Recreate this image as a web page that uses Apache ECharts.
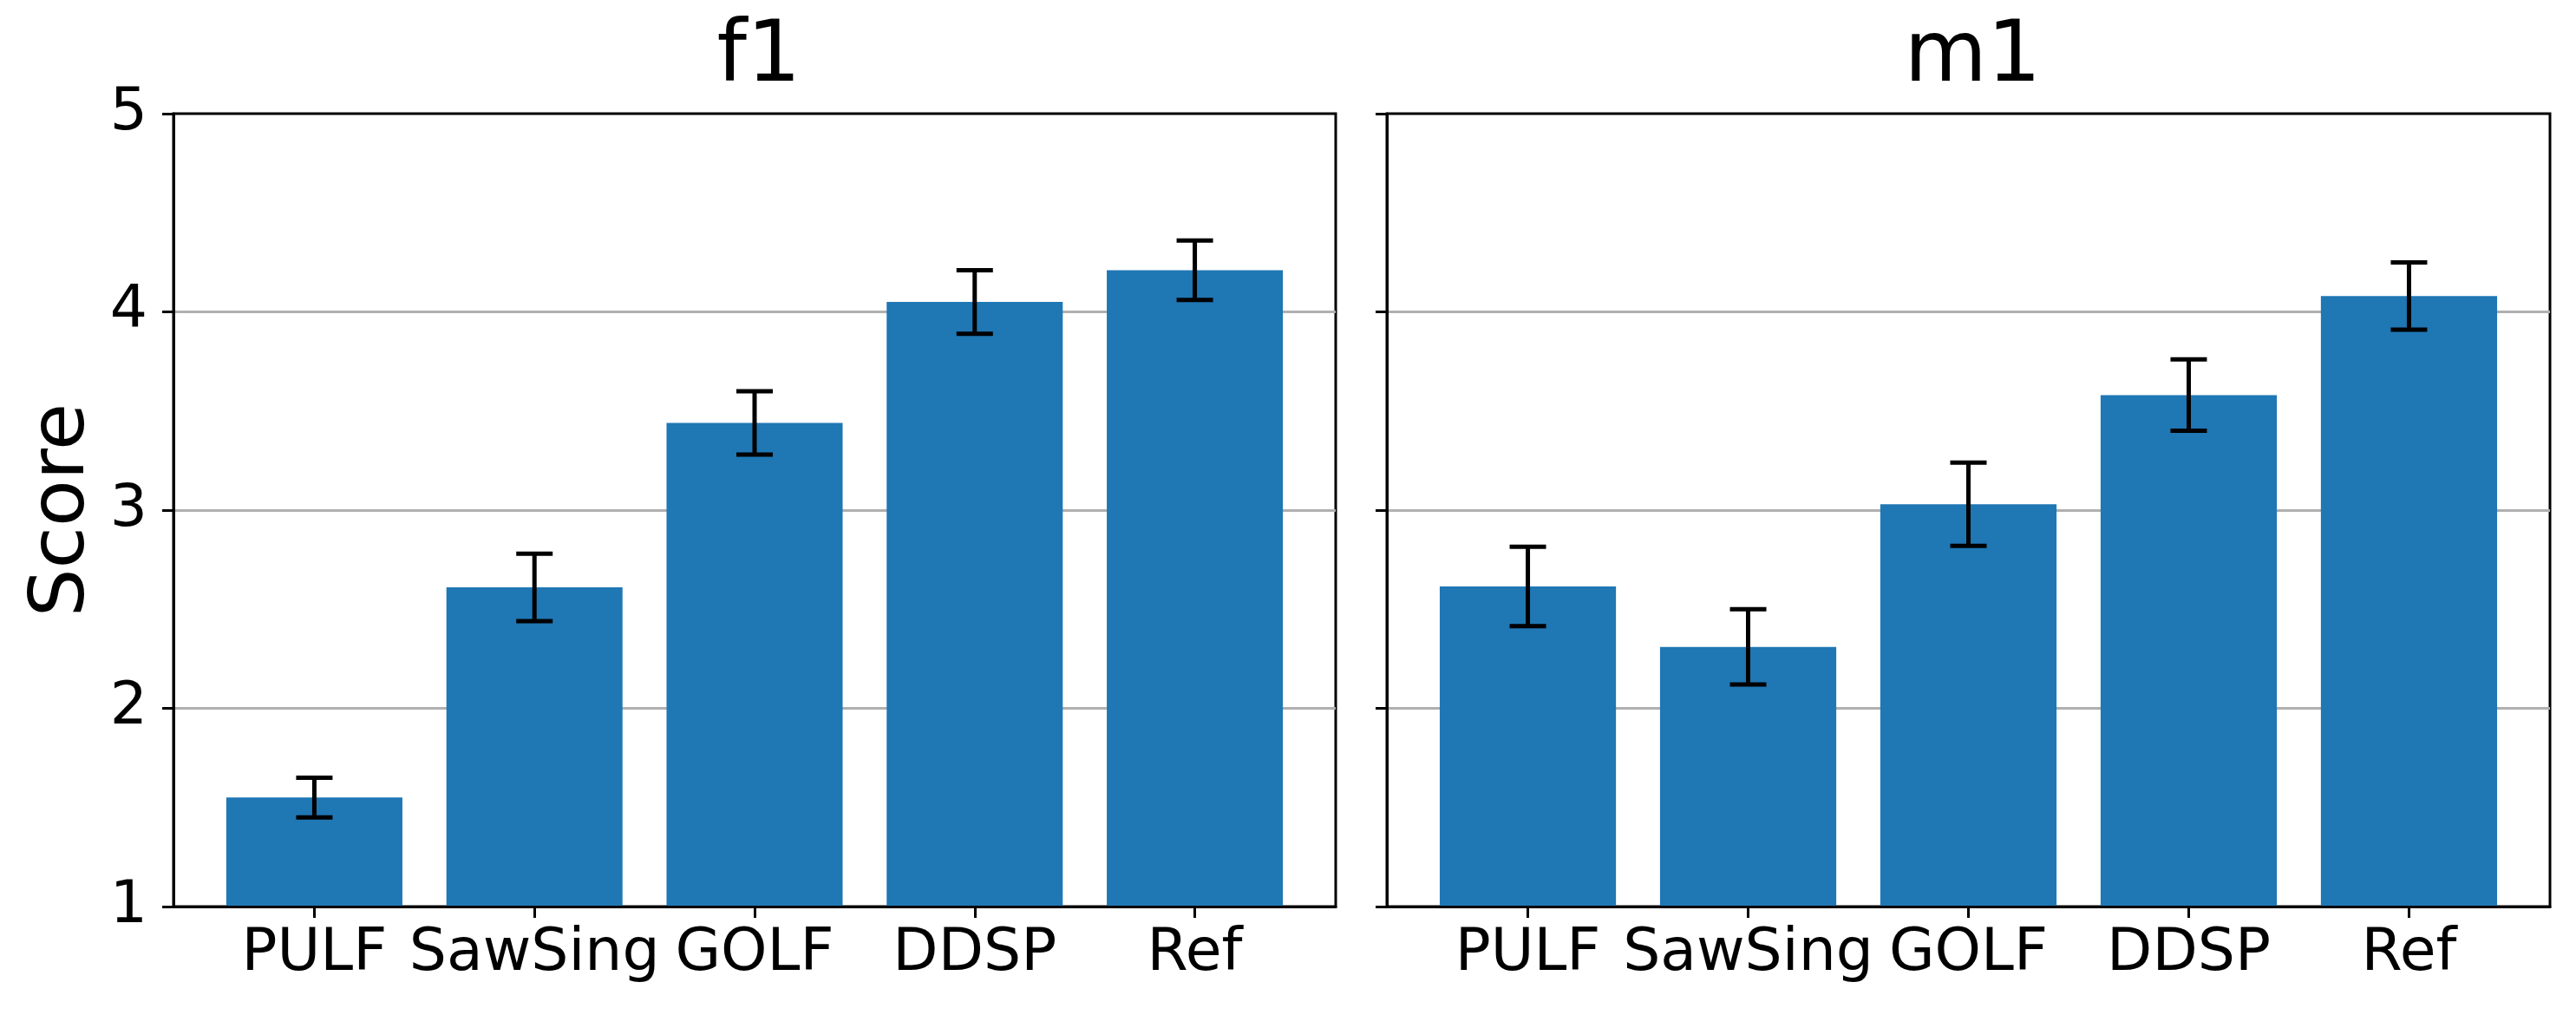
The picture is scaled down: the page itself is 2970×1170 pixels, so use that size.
<!DOCTYPE html>
<html>
<head>
<meta charset="utf-8">
<script src="https://cdn.jsdelivr.net/npm/echarts@6/dist/echarts.min.js"></script>
<style>
html,body{margin:0;padding:0;background:#fff;}
#chart{width:2970px;height:1170px;}
</style>
</head>
<body>
<div id="chart"></div>
<script>
const categories = ['PULF', 'SawSing', 'GOLF', 'DDSP', 'Ref'];
const f1Mean = [1.55, 2.61, 3.44, 4.05, 4.21];
const f1Err  = [0.10, 0.17, 0.16, 0.16, 0.15];
const m1Mean = [2.615, 2.31, 3.03, 3.58, 4.08];
const m1Err  = [0.20, 0.19, 0.21, 0.18, 0.17];
const panelTitles = ['f1', 'm1'];
const yTicks = [1, 2, 3, 4, 5];
const yName = 'Score';

const FONT = 'DejaVu Sans';
const BAR_COLOR = '#1f77b4';
const yMin = yTicks[0], yMax = yTicks[yTicks.length - 1];
const catIdx = categories.map((c, i) => i);

const chart = echarts.init(document.getElementById('chart'), null, {renderer: 'canvas'});

const grids = [
  {left: 200, top: 131, width: 1340, height: 914},
  {left: 1599, top: 131, width: 1341, height: 914}
];

function xAxisFor(gi) {
  return {
    type: 'value', gridIndex: gi, min: -0.64, max: 4.64, z: 5,
    axisLine: {show: true, onZero: false, lineStyle: {color: '#000', width: 3}},
    axisTick: {show: true, inside: false, length: 13, lineStyle: {color: '#000', width: 3}, customValues: catIdx},
    axisLabel: {show: true, margin: 21, fontFamily: FONT, fontSize: 68, color: '#000',
      customValues: catIdx, formatter: v => categories[Math.round(v)]},
    splitLine: {show: false}
  };
}
function yAxisFor(gi) {
  return {
    type: 'value', gridIndex: gi, min: yMin, max: yMax, interval: 1,
    name: gi === 0 ? yName : '', nameLocation: 'middle', nameGap: 83,
    nameTextStyle: {fontFamily: FONT, fontSize: 88, color: '#000'},
    axisLine: {show: true, onZero: false, lineStyle: {color: '#000', width: 3}},
    axisTick: {show: true, inside: false, length: 13, lineStyle: {color: '#000', width: 3}},
    axisLabel: {show: gi === 0, margin: 30, fontFamily: FONT, fontSize: 68, color: '#000'},
    splitLine: {show: true, showMinLine: false, showMaxLine: false, lineStyle: {color: '#b0b0b0', width: 3}}
  };
}

function barRender(params, api) {
  const x = api.value(0), v = api.value(1);
  const p0 = api.coord([x, yMin]);
  const p1 = api.coord([x, v]);
  const w = api.size([0.8, 0])[0];
  return {type: 'rect', shape: {x: p1[0] - w / 2, y: p1[1], width: w, height: p0[1] - p1[1]},
    style: {fill: BAR_COLOR}};
}
function errRender(params, api) {
  const x = api.value(0), v = api.value(1), e = api.value(2);
  const lo = api.coord([x, v - e]);
  const hi = api.coord([x, v + e]);
  const cap = 21;
  const st = {stroke: '#000', lineWidth: 5};
  return {type: 'group', children: [
    {type: 'line', shape: {x1: lo[0], y1: lo[1], x2: hi[0], y2: hi[1]}, style: st},
    {type: 'line', shape: {x1: lo[0] - cap, y1: lo[1], x2: lo[0] + cap, y2: lo[1]}, style: st},
    {type: 'line', shape: {x1: hi[0] - cap, y1: hi[1], x2: hi[0] + cap, y2: hi[1]}, style: st}
  ]};
}

const means = [f1Mean, m1Mean];
const errs = [f1Err, m1Err];
const series = [];
[0, 1].forEach(gi => {
  series.push({type: 'custom', xAxisIndex: gi, yAxisIndex: gi, z: 2, renderItem: barRender,
    data: means[gi].map((v, i) => [i, v]), silent: true});
  series.push({type: 'custom', xAxisIndex: gi, yAxisIndex: gi, z: 6, renderItem: errRender,
    data: means[gi].map((v, i) => [i, v, errs[gi][i]]), silent: true});
});

chart.setOption({
  animation: false,
  backgroundColor: '#fff',
  title: panelTitles.map((t, gi) => ({
    text: t, left: grids[gi].left + grids[gi].width / 2, top: 14, textAlign: 'center',
    textStyle: {fontFamily: FONT, fontSize: 98, fontWeight: 'normal', color: '#000'}
  })),
  grid: grids.map(g => Object.assign({show: true, borderColor: '#000', borderWidth: 3,
    backgroundColor: 'transparent', containLabel: false}, g)),
  xAxis: [xAxisFor(0), xAxisFor(1)],
  yAxis: [yAxisFor(0), yAxisFor(1)],
  series: series
});
</script>
</body>
</html>
